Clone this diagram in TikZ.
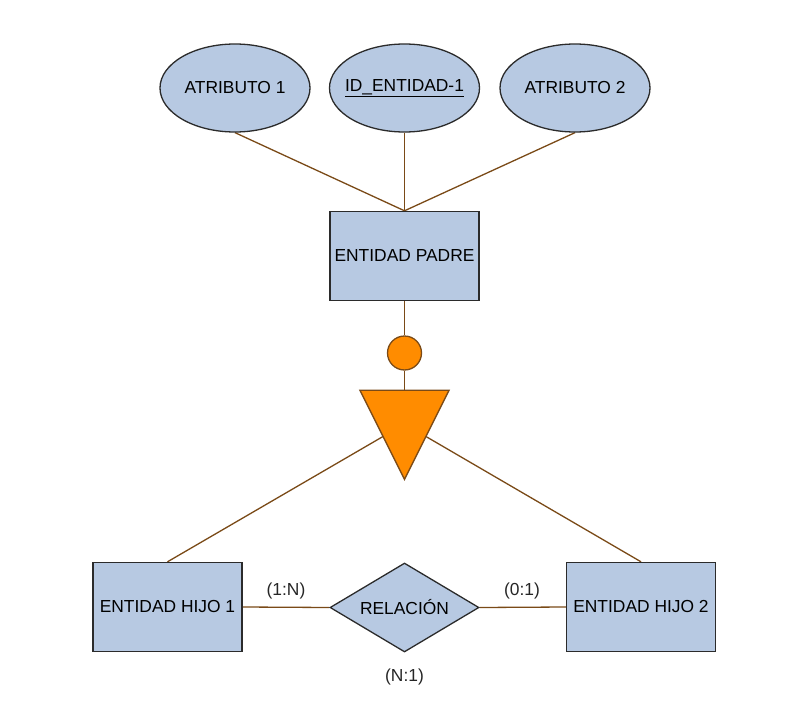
\documentclass[tikz,border=0pt]{standalone}
\usepackage{fontspec}
\setmainfont{Liberation Sans}
\usetikzlibrary{shapes.geometric,backgrounds}
\definecolor{boxfill}{HTML}{B7C9E2}
\definecolor{boxline}{HTML}{2B2B2B}
\definecolor{linkc}{HTML}{7A4A17}
\definecolor{orangef}{HTML}{FF8C00}
\definecolor{oline}{HTML}{7A4A17}
\newcommand{\zw}[1]{\makebox[0pt]{#1}}
\begin{document}
\begin{tikzpicture}[x=1pt,y=-1pt,
  every node/.style={font=\fontsize{17.4}{20}\selectfont, inner sep=0pt},
  entity/.style={draw=boxline, fill=boxfill, line width=1.4pt, rectangle,
    minimum width=149pt, minimum height=89pt},
  attr/.style={draw=boxline, fill=boxfill, line width=1.3pt, ellipse,
    minimum width=150pt, minimum height=88pt},
  rel/.style={draw=boxline, fill=boxfill, line width=1.3pt, diamond, aspect=1.674,
    minimum width=149pt, minimum height=89pt},
  conn/.style={draw=linkc, line width=1.3pt},
  card/.style={text=black!85}]
\useasboundingbox (0,0) rectangle (812,720);

% attributes
\node[attr] (a1) at (235,88) {\zw{ATRIBUTO 1}};
\node[attr] (aid) at (404.5,88) {\zw{\underline{ID\_ENTIDAD-1}}};
\node[attr] (a2) at (575,88) {\zw{ATRIBUTO 2}};

% parent entity
\node[entity] (padre) at (404.5,256) {ENTIDAD PADRE};

% specialization symbol
\node[circle, draw=oline, fill=orangef, line width=1.3pt, minimum size=34pt] (disc) at (404.5,353) {};
\node[isosceles triangle, isosceles triangle stretches, shape border rotate=-90,
  draw=oline, fill=orangef, line width=1.3pt, minimum width=89pt, minimum height=89pt,
  anchor=apex] (tri) at (404.5,481) {};
\coordinate (tc) at (404.5,424);

% child entities and relationship
\node[entity] (h1) at (167.5,607) {ENTIDAD HIJO 1};
\node[rel] (r) at (404.5,607.5) {RELACIÓN};
\node[entity] (h2) at (641,607) {ENTIDAD HIJO 2};

% cardinalities
\node[card] (c1) at (286,591) {(1:N)};
\node[card] (c2) at (522,591) {(0:1)};
\node[card] (c3) at (404.5,677) {(N:1)};

\begin{pgfonlayer}{background}
\draw[conn] (a1.south) -- (padre.north);
\draw[conn] (aid.south) -- (padre.north);
\draw[conn] (a2.south) -- (padre.north);
\draw[conn] (padre.south) -- (disc.north);
\draw[conn] (disc.south) -- (tri.north);
\draw[conn] (h1.north) -- (tc);
\draw[conn] (h2.north) -- (tc);
\draw[conn] (h1.east) -- (r.west);
\draw[conn] (r.east) -- (h2.west);
\end{pgfonlayer}
\end{tikzpicture}
\end{document}
